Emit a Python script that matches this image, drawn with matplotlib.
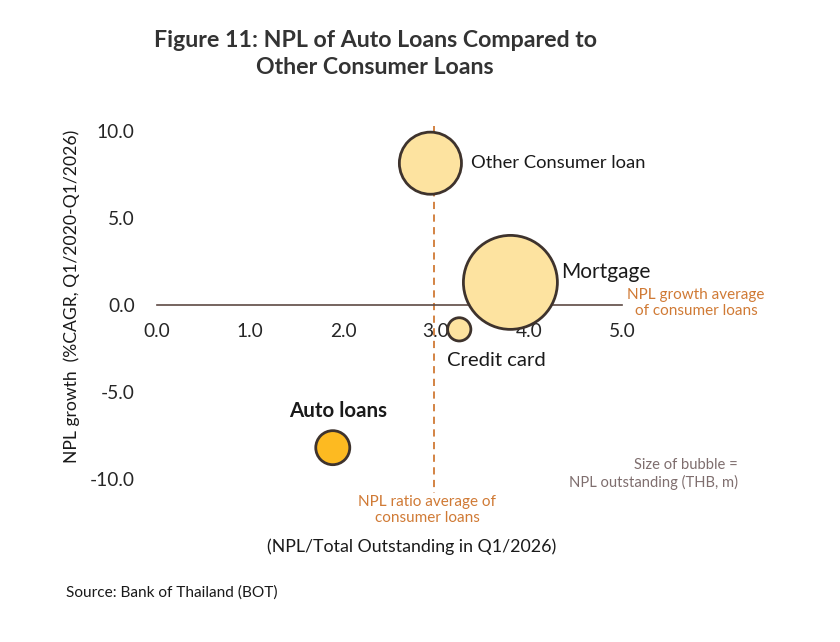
import matplotlib
matplotlib.use("Agg")
import matplotlib.pyplot as plt

plt.rcParams['font.family'] = ['Lato', 'DejaVu Sans']

# data
loan_types = ['Auto loans', 'Credit card', 'Mortgage', 'Other Consumer loan']
npl_ratio = [1.89, 3.25, 3.80, 2.94]          # NPL / total outstanding, %
npl_growth = [-8.2, -1.4, 1.3, 8.15]           # %CAGR Q1/2020-Q1/2026
npl_outstanding = [30000, 14000, 229000, 100000]  # THB m (bubble size)
avg_npl_ratio = 2.98
avg_npl_growth = 0.0

x_ticks = [0, 1, 2, 3, 4, 5]
y_ticks = [-10, -5, 0, 5, 10]

fill_colors = ['#FDBA21', '#FDE3A0', '#FDE3A0', '#FDE3A0']
edge_color = '#3E332D'
orange = '#D07A35'

fig = plt.figure(figsize=(8.4, 6.42), dpi=100)
ax = fig.add_axes([157 / 840, 1 - 496.4 / 642, 465 / 840, 374.1 / 642])

sizes = [v / 50 for v in npl_outstanding]
ax.scatter(npl_ratio, npl_growth, s=sizes, c=fill_colors, edgecolors=edge_color,
           linewidths=2, zorder=3, clip_on=False)

# average NPL ratio (dashed vertical line)
ax.plot([avg_npl_ratio, avg_npl_ratio], [10.3, -10.8], color=orange, linestyle=(0, (4, 3)),
        linewidth=1.3, zorder=2, clip_on=False)

ax.set_xlim(0, 5)
ax.set_ylim(-11, 10.5)

# x axis crosses at the average growth (0)
for side in ['top', 'right', 'left']:
    ax.spines[side].set_visible(False)
ax.spines['bottom'].set_position(('data', avg_npl_growth))
ax.spines['bottom'].set_color('#5E4A44')
ax.spines['bottom'].set_linewidth(1.2)
ax.set_xticks(x_ticks)
ax.set_xticklabels([f'{v:.1f}' for v in x_ticks])
ax.set_yticks(y_ticks)
ax.set_yticklabels([f'{v:.1f}' for v in y_ticks])
ax.tick_params(axis='x', length=0, pad=13, labelsize=13.8, labelcolor='#262626')
ax.tick_params(axis='y', length=0, pad=16, labelsize=13.8, labelcolor='#262626')

# bubble labels
ax.text(3.38, 8.15, 'Other Consumer loan', fontsize=13.2, va='center', ha='left', color='#1a1a1a')
ax.text(4.35, 1.9, 'Mortgage', fontsize=15, va='center', ha='left', color='#1a1a1a')
ax.text(3.12, -3.2, 'Credit card', fontsize=14.6, va='center', ha='left', color='#1a1a1a')
ax.text(1.95, -6.1, 'Auto loans', fontsize=14.8, va='center', ha='center', fontweight='bold',
        color='#1a1a1a')

# reference line notes
fig.text(696 / 840, 1 - 303 / 642, 'NPL growth average\nof consumer loans', fontsize=11,
         color=orange, ha='center', va='center', linespacing=1.1)
fig.text(427 / 840, 1 - 510 / 642, 'NPL ratio average of\nconsumer loans', fontsize=11,
         color=orange, ha='center', va='center', linespacing=1.1)
fig.text(738 / 840, 1 - 474 / 642, 'Size of bubble =\nNPL outstanding (THB, m)', fontsize=10.6,
         color='#7F6E6E', ha='right', va='center', linespacing=1.2)

# axis titles
fig.text(72 / 840, 1 - 296 / 642, 'NPL growth  (%CAGR, Q1/2020-Q1/2026)', fontsize=12.6,
         rotation=90, ha='center', va='center', color='#1a1a1a')
fig.text(412 / 840, 1 - 547 / 642, '(NPL/Total Outstanding in Q1/2026)', fontsize=12.8,
         ha='center', va='center', color='#1a1a1a')

fig.text(375 / 840, 1 - 54 / 642, 'Figure 11: NPL of Auto Loans Compared to\nOther Consumer Loans',
         fontsize=16.7, fontweight='bold', ha='center', va='center', color='#333333',
         linespacing=1.32)
fig.text(66 / 840, 1 - 593 / 642, 'Source: Bank of Thailand (BOT)', fontsize=11.1,
         ha='left', va='center', color='#1a1a1a')

fig.savefig('out.png', dpi=100)
